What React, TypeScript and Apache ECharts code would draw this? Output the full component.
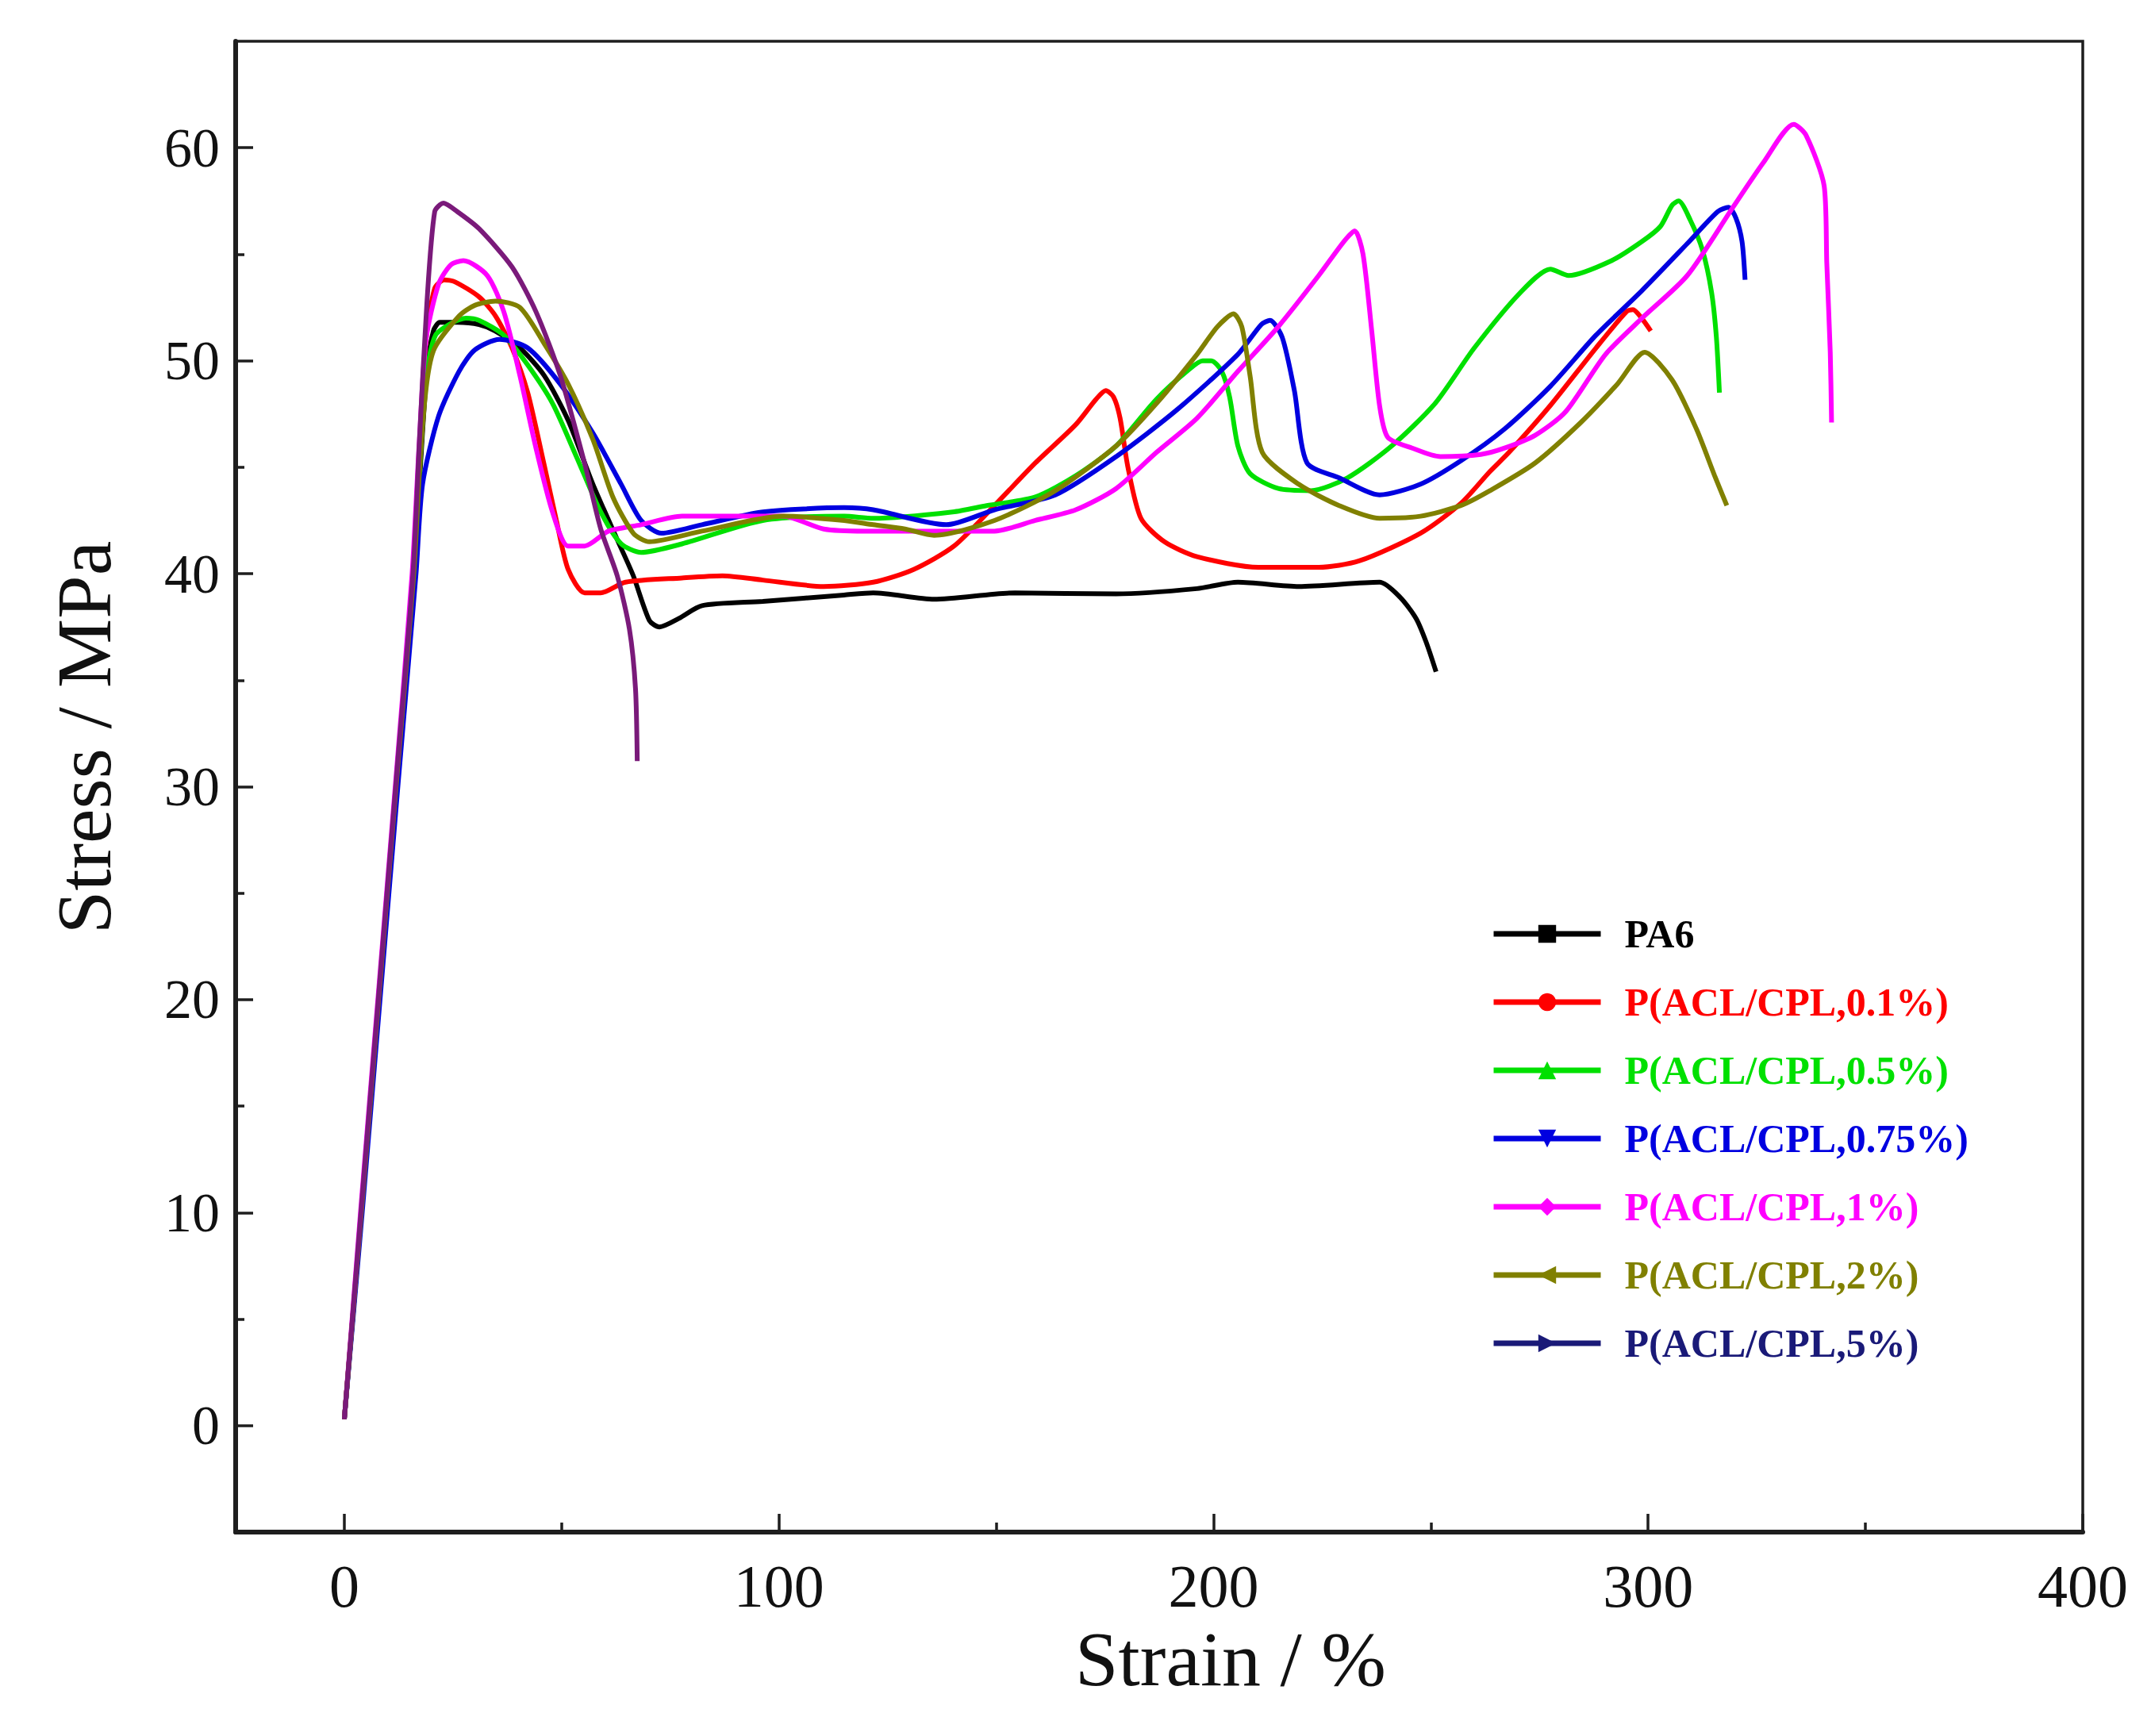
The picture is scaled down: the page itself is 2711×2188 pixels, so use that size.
import React, { useEffect, useRef } from "react";
import * as echarts from "echarts";

// strain (%) / stress (MPa) pairs
const pa6: number[][] = [
  [0, 0.3], [4, 10.2], [8, 20.2], [12, 30.2], [16, 40], [17.5, 45], [19, 49.5], [20.5, 51.4],
  [22, 51.8], [26, 51.8], [31, 51.7], [34.7, 51.4], [40.4, 50.6], [46, 49.3], [51.5, 47.2],
  [57.2, 44.2], [62.8, 41.6], [66.5, 39.9], [70.2, 37.8], [72.5, 37.5], [77, 37.9], [82.3, 38.5],
  [96.3, 38.7], [115, 39.0], [121.7, 39.1], [135.7, 38.8], [154.3, 39.1], [177.6, 39.05],
  [196.2, 39.3], [205.6, 39.6], [219.6, 39.4], [238.2, 39.6], [242.9, 38.9], [246.6, 37.9],
  [248.9, 36.8], [251.2, 35.4],
];

const acl01: number[][] = [
  [0, 0.3], [4, 10.2], [8, 20.2], [12, 30.2], [15.8, 40], [17.3, 46], [18.8, 51], [20.8, 53.4],
  [23, 53.8], [25.5, 53.7], [31, 53.0], [34.8, 52.1], [38.6, 50.6], [42.2, 48.5], [46, 45.1],
  [48.8, 42.5], [51.5, 40.2], [55.3, 39.1], [59, 39.1], [64.7, 39.6], [77.7, 39.8], [87, 39.9],
  [96.3, 39.7], [110.3, 39.4], [121.7, 39.6], [131, 40.2], [140.3, 41.3], [149.6, 43.2],
  [159, 45.2], [168.3, 47.0], [173, 48.2], [175.2, 48.6], [177, 48.3], [178.5, 47.3],
  [180.3, 45.0], [183.3, 42.6], [188.7, 41.5], [196.2, 40.8], [210.3, 40.3], [224.2, 40.3],
  [233.5, 40.6], [247.6, 41.9], [256.9, 43.3], [263.6, 44.8], [268, 45.7], [277.5, 47.9],
  [288, 50.6], [295, 52.3], [296.5, 52.4], [298.5, 52.0], [300.6, 51.4],
];

const acl05: number[][] = [
  [0, 0.3], [4, 10.2], [8, 20.2], [12, 30.2], [16, 40], [17.5, 45.5], [19, 49.5], [21, 51.2],
  [25, 51.8], [28, 52.0], [31, 51.9], [36.7, 51.2], [42.2, 49.8], [47.9, 48.0], [53.4, 45.5],
  [59, 42.9], [63.7, 41.4], [68.3, 41.0], [77.7, 41.4], [96.3, 42.5], [115, 42.7], [121.7, 42.6],
  [140, 42.9], [147.8, 43.2], [159, 43.6], [168.3, 44.6], [177.6, 46.0], [186.9, 48.2],
  [194.4, 49.6], [197.5, 50.0], [199.5, 50.0], [201.9, 49.5], [203.7, 48.3], [205.6, 46.0],
  [208.4, 44.7], [214.9, 44.0], [222.4, 43.9], [230.8, 44.5], [241, 46.0], [251, 48.0],
  [260, 50.6], [270.6, 53.2], [277.5, 54.3], [281.7, 54.0], [291.6, 54.7], [298.6, 55.6],
  [302.8, 56.3], [305.5, 57.3], [307, 57.5], [309.7, 56.6], [312.5, 55.2], [314.6, 53.2],
  [315.7, 51.1], [316.4, 48.5],
];

const acl075: number[][] = [
  [0, 0.3], [4.2, 10.2], [8.3, 20.2], [12.4, 30.2], [16.5, 40], [18, 44.2], [21.7, 47.4],
  [26.4, 49.5], [30, 50.5], [35.7, 51.0], [42.2, 50.6], [49.7, 48.9], [57.2, 46.6], [63.7, 44.2],
  [68.3, 42.5], [73, 41.9], [82.3, 42.3], [96.3, 42.9], [115, 43.1], [121.7, 43.0], [138.5, 42.3],
  [149.6, 43.0], [163.6, 43.7], [177.6, 45.5], [191.6, 47.7], [205.6, 50.3], [211, 51.7],
  [213, 51.9], [215.8, 51.1], [218.6, 48.6], [221.5, 45.2], [228.9, 44.5], [238.2, 43.7],
  [247.6, 44.2], [256.9, 45.3], [267, 46.8], [277.5, 48.8], [288, 51.2], [298.6, 53.3],
  [309, 55.5], [316, 57.0], [318.5, 57.2], [320.2, 56.7], [321.6, 55.6], [322.3, 53.8],
];

const acl1: number[][] = [
  [0, 0.3], [3.8, 10.2], [7.8, 20.2], [11.8, 30.2], [15.6, 40], [17.2, 46], [18.8, 51],
  [21.7, 53.6], [24.5, 54.5], [27.4, 54.7], [32.9, 54.0], [36.7, 52.3], [40.4, 49.3],
  [44.1, 45.9], [47.9, 42.9], [51.5, 41.3], [55.3, 41.3], [60.8, 42.0], [68.3, 42.3],
  [77.7, 42.7], [87, 42.7], [101, 42.7], [110.3, 42.1], [119.6, 42.0], [140.3, 42.0],
  [149.6, 42.0], [159, 42.5], [168.3, 43.0], [177.6, 44.0], [186.9, 45.7], [196.2, 47.3],
  [205.6, 49.5], [214.9, 51.6], [224.2, 54.0], [230, 55.6], [232.5, 56.1], [234.4, 55.0],
  [236.4, 51.4], [238.2, 47.9], [240.1, 46.4], [245.7, 45.9], [252.2, 45.5], [261.5, 45.6],
  [267, 45.9], [274, 46.5], [281, 47.6], [290.2, 50.3], [298.6, 52.0], [309, 54.0],
  [319.5, 57.2], [326.5, 59.3], [333.5, 61.1], [336.3, 60.6], [340.5, 58.2], [341.1, 54.6],
  [341.9, 50.4], [342.2, 47.1],
];

const acl2: number[][] = [
  [0, 0.3], [4, 10.2], [8, 20.2], [12, 30.2], [16, 40], [17.5, 45.5], [19, 49], [20.8, 50.6],
  [26.4, 52.1], [30, 52.6], [34.8, 52.8], [40.4, 52.5], [46, 50.8], [51.5, 48.9], [57.2, 46.3],
  [61.8, 43.6], [66.5, 41.9], [70.2, 41.5], [82.3, 42.0], [101, 42.7], [115, 42.5],
  [121.7, 42.3], [129, 42.1], [135.7, 41.8], [149.6, 42.5], [163.6, 43.9], [177.6, 46.0],
  [186.9, 48.0], [196.2, 50.3], [200.9, 51.6], [204.6, 52.2], [206.5, 51.6], [208.4, 49.3],
  [211.2, 45.7], [219.6, 44.2], [228.9, 43.2], [238.2, 42.6], [247.6, 42.7], [256.9, 43.2],
  [263.6, 43.9], [274, 45.2], [284.5, 47.1], [292.9, 48.9], [299.2, 50.4], [305.5, 49.1],
  [311.1, 46.8], [315.3, 44.6], [318.1, 43.2],
];

const acl5: number[][] = [
  [0, 0.3], [3.9, 10.2], [7.9, 20.2], [11.9, 30.2], [15.8, 40], [17.3, 46.3], [19, 52.7],
  [20.8, 57], [22.8, 57.4], [26, 57.0], [31, 56.2], [38.6, 54.4], [44.1, 52.3], [49.7, 49.3],
  [55.4, 45.1], [59, 42.1], [62.8, 39.9], [65.6, 37.4], [67, 34.6], [67.4, 31.2],
];

const seriesNames = [
  "PA6",
  "P(ACL/CPL,0.1%)",
  "P(ACL/CPL,0.5%)",
  "P(ACL/CPL,0.75%)",
  "P(ACL/CPL,1%)",
  "P(ACL/CPL,2%)",
  "P(ACL/CPL,5%)",
];
const seriesData = [pa6, acl01, acl05, acl075, acl1, acl2, acl5];
const lineColors = ["#000000", "#ff0000", "#00e000", "#0000e0", "#ff00ff", "#808000", "#7a1a7a"];
const legendColors = ["#000000", "#ff0000", "#00e000", "#0000e0", "#ff00ff", "#808000", "#1a1a78"];
const symbols = [
  "rect",
  "circle",
  "triangle",
  "path://M0,0 L10,0 L5,10 Z",
  "diamond",
  "path://M10,0 L10,10 L0,5 Z",
  "path://M0,0 L0,10 L10,5 Z",
];

const xMajorTicks = [0, 100, 200, 300, 400];
const xMinorTicks = [50, 150, 250, 350];
const yMajorTicks = [0, 10, 20, 30, 40, 50, 60];
const yMinorTicks = [5, 15, 25, 35, 45, 55];

const FONT = '"Liberation Serif", "Times New Roman", serif';
const AXIS_COLOR = "#1e1e1e";

const App: React.FC = () => {
  const chartRef = useRef<HTMLDivElement>(null);

  useEffect(() => {
    document.body.style.margin = "0";
    const chartDom = chartRef.current;
    if (!chartDom) return;

    const myChart = echarts.init(chartDom, undefined, { renderer: "svg" });

    const option: echarts.EChartsOption = {
      animation: false,
      backgroundColor: "#ffffff",
      grid: {
        left: 297,
        right: 86,
        top: 52,
        bottom: 257,
        show: true,
        borderColor: AXIS_COLOR,
        borderWidth: 3.5,
      },
      legend: {
        orient: "vertical",
        left: 1879,
        top: 1152,
        padding: 0,
        itemWidth: 135,
        itemHeight: 28,
        itemGap: 36,
        lineStyle: { width: 7 },
        textStyle: {
          fontFamily: FONT,
          fontSize: 50,
          fontWeight: "bold",
          lineHeight: 50,
          padding: [0, 0, 0, 25],
        },
        data: seriesNames.map((name, i) => ({
          name,
          itemStyle: { color: legendColors[i] },
          lineStyle: { color: legendColors[i], width: 7 },
          textStyle: { color: legendColors[i] },
        })),
      },
      xAxis: [
        {
          type: "value",
          min: -25,
          max: 400,
          name: "Strain / %",
          nameLocation: "middle",
          nameGap: 111,
          nameTextStyle: {
            fontFamily: FONT,
            fontSize: 98,
            color: "#111",
            padding: [0, 0, 0, 180],
          },
          splitLine: { show: false },
          axisLine: { show: true, onZero: false, lineStyle: { color: AXIS_COLOR, width: 6 } },
          axisTick: {
            show: true,
            inside: true,
            length: 23,
            customValues: xMajorTicks,
            lineStyle: { color: AXIS_COLOR, width: 3.5 },
          },
          axisLabel: {
            customValues: xMajorTicks,
            margin: 30,
            fontFamily: FONT,
            fontSize: 76,
            color: "#111",
          },
        },
        {
          type: "value",
          min: -25,
          max: 400,
          position: "bottom",
          splitLine: { show: false },
          axisLine: { show: false, onZero: false },
          axisLabel: { show: false },
          axisTick: {
            show: true,
            inside: true,
            length: 12,
            customValues: xMinorTicks,
            lineStyle: { color: AXIS_COLOR, width: 3.5 },
          },
        },
      ],
      yAxis: [
        {
          type: "value",
          min: -5,
          max: 65,
          name: "Stress / MPa",
          nameLocation: "middle",
          nameGap: 142,
          nameTextStyle: {
            fontFamily: FONT,
            fontSize: 98,
            color: "#111",
            padding: [0, 0, 0, 124],
          },
          splitLine: { show: false },
          axisLine: { show: true, onZero: false, lineStyle: { color: AXIS_COLOR, width: 6 } },
          axisTick: {
            show: true,
            inside: true,
            length: 22,
            customValues: yMajorTicks,
            lineStyle: { color: AXIS_COLOR, width: 3.5 },
          },
          axisLabel: {
            customValues: yMajorTicks,
            margin: 20,
            fontFamily: FONT,
            fontSize: 70,
            color: "#111",
          },
        },
        {
          type: "value",
          min: -5,
          max: 65,
          position: "left",
          splitLine: { show: false },
          axisLine: { show: false, onZero: false },
          axisLabel: { show: false },
          axisTick: {
            show: true,
            inside: true,
            length: 11,
            customValues: yMinorTicks,
            lineStyle: { color: AXIS_COLOR, width: 3.5 },
          },
        },
      ],
      series: seriesNames.map((name, i) => ({
        name,
        type: "line",
        xAxisIndex: 0,
        yAxisIndex: 0,
        data: seriesData[i],
        smooth: 0.25,
        showSymbol: false,
        symbol: symbols[i],
        symbolSize: 26,
        lineStyle: { color: lineColors[i], width: 6 },
        itemStyle: { color: lineColors[i] },
        z: i === 6 ? 10 : 2 + i,
      })),
    };

    myChart.setOption(option);

    const handleResize = (): void => {
      myChart.resize();
    };
    window.addEventListener("resize", handleResize);

    return () => {
      window.removeEventListener("resize", handleResize);
      myChart.dispose();
    };
  }, []);

  return <div ref={chartRef} style={{ width: "2711px", height: "2188px" }} />;
};

export default App;
